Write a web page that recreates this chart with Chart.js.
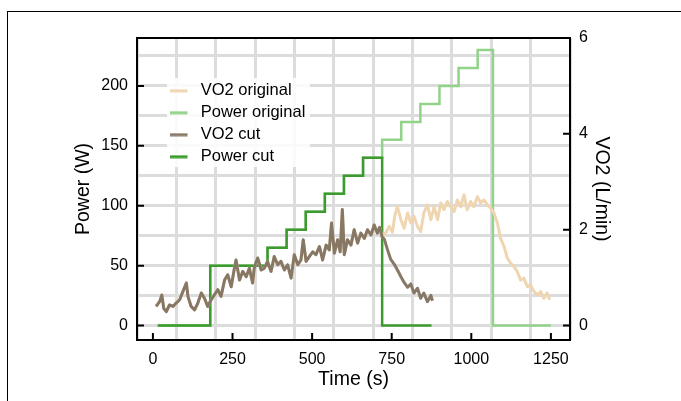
<!DOCTYPE html>
<html>
<head>
<meta charset="utf-8">
<script src="https://cdn.jsdelivr.net/npm/chart.js@4.4.1/dist/chart.umd.min.js"></script>
<style>
  html, body { margin: 0; padding: 0; background: #fff; }
  #wrap { position: relative; width: 681px; height: 401px; overflow: hidden; }
  #frame { position: absolute; left: 7px; top: 11px; width: 720px; height: 440px; border: 1px solid #000; }
  canvas { position: absolute; left: 0; top: 0; }
</style>
</head>
<body>
<div id="wrap">
  <div id="frame"></div>
  <canvas id="chart" width="681" height="401"></canvas>
</div>
<script>
// tick labels
const xTicks = [0, 250, 500, 750, 1000, 1250];
const powerTicks = [0, 50, 100, 150, 200];
const vo2Ticks = [0, 2, 4, 6];

// power steps (value holds from its time onward)
const powerCutTime = [15, 180, 360, 420, 480, 540, 600, 660, 720, 875];
const powerCutW = [0, 50, 65, 80, 95, 110, 125, 140, 0, 0];
const powerOrigTime = [15, 180, 360, 420, 480, 540, 600, 660, 720, 780, 840, 900, 960, 1020, 1068, 1250];
const powerOrigW = [0, 50, 65, 80, 95, 110, 125, 140, 155, 170, 185, 200, 215, 230, 0, 0];

// VO2 common to both series, up to the cut
const vo2Time = [10, 21, 28, 34, 42, 52, 63, 73, 84, 94,
  105, 110, 120, 131, 141, 152, 162, 172, 183, 193,
  204, 214, 225, 235, 246, 256, 261, 272, 282, 293,
  303, 313, 319, 329, 340, 350, 360, 371, 381, 392,
  402, 413, 423, 434, 444, 455, 465, 472, 481, 491,
  502, 512, 523, 533, 544, 554, 561, 570, 580, 588,
  595, 601, 611, 622, 632, 643, 653, 664, 674, 685,
  695, 705, 712, 720];
const vo2Shared = [0.40, 0.50, 0.64, 0.36, 0.29, 0.43, 0.40, 0.47, 0.54, 0.71,
  0.89, 0.61, 0.40, 0.33, 0.47, 0.68, 0.57, 0.40, 0.54, 0.64,
  0.75, 0.61, 0.95, 1.06, 0.81, 1.20, 1.37, 0.95, 1.13, 1.02,
  1.20, 0.89, 1.23, 1.41, 1.16, 1.20, 1.34, 1.13, 1.44, 1.27,
  1.34, 1.16, 1.27, 0.99, 1.48, 1.27, 1.37, 1.79, 1.34, 1.44,
  1.54, 1.48, 1.65, 1.37, 1.68, 1.58, 2.14, 1.51, 1.79, 1.54,
  2.42, 1.48, 1.79, 1.68, 2.00, 1.72, 1.93, 1.82, 2.00, 1.89,
  2.10, 1.93, 2.05, 1.85];

// after the cut: recovery
const cutTailTime = [727, 737, 747, 758, 768, 779, 789, 800, 810, 820, 831, 841, 851, 862, 873, 878];
const cutTailVo2 = [1.80, 1.58, 1.38, 1.28, 1.16, 1.02, 0.90, 0.80, 0.87, 0.68, 0.78, 0.57, 0.68, 0.50, 0.63, 0.52];

// original test continues
const origTailTime = [731, 742, 752, 760, 768, 779, 789, 800, 810, 820, 831, 841, 851, 862, 873,
  883, 894, 904, 914, 925, 935, 946, 956, 967, 977, 987, 998, 1008, 1019, 1029, 1040, 1050, 1061,
  1071, 1082, 1092, 1103, 1113, 1124, 1134, 1144, 1155, 1165, 1176, 1186, 1197, 1207, 1218, 1228, 1238, 1246];
const origTailVo2 = [1.93, 2.07, 1.95, 2.30, 2.48, 2.21, 2.03, 2.35, 2.14, 2.28, 2.07, 1.96, 2.35, 2.52, 2.21,
  2.48, 2.21, 2.56, 2.42, 2.59, 2.48, 2.38, 2.62, 2.48, 2.73, 2.42, 2.59, 2.48, 2.69, 2.56, 2.62, 2.52, 2.45,
  2.35, 2.14, 1.82, 1.65, 1.41, 1.30, 1.23, 1.13, 0.95, 0.99, 0.81, 0.85, 0.71, 0.64, 0.71, 0.57, 0.68, 0.54];

const colors = {
  vo2Orig: "#efd5b0",
  powerOrig: "#92d38a",
  vo2Cut: "#877866",
  powerCut: "#3d9a2f",
};

function pairs(xs, ys) {
  return xs.map((x, i) => ({ x: x, y: ys[i] }));
}

// little canvas used as the legend sample (line segment)
function sample(color) {
  const c = document.createElement("canvas");
  c.width = 23;
  c.height = 4;
  const g = c.getContext("2d");
  g.fillStyle = color;
  g.fillRect(0, 0.5, 18, 3);
  return c;
}

Chart.defaults.font.family = "'Liberation Sans', Arial, sans-serif";
Chart.defaults.color = "#000";

const frame = {
  id: "frame",
  afterDatasetsDraw(chart) {
    const { ctx, chartArea: a, scales } = chart;
    ctx.save();
    ctx.strokeStyle = "#000";
    ctx.lineWidth = 2;
    ctx.strokeRect(a.left, a.top, a.right - a.left, a.bottom - a.top);
    ctx.beginPath();
    xTicks.forEach((v) => {
      const px = scales.x.getPixelForValue(v);
      ctx.moveTo(px, a.bottom);
      ctx.lineTo(px, a.bottom - 7);
    });
    powerTicks.forEach((v) => {
      const py = scales.y.getPixelForValue(v);
      ctx.moveTo(a.left, py);
      ctx.lineTo(a.left + 7, py);
    });
    vo2Ticks.forEach((v) => {
      const py = scales.y2.getPixelForValue(v);
      ctx.moveTo(a.right, py);
      ctx.lineTo(a.right - 7, py);
    });
    ctx.stroke();
    ctx.restore();
  },
};

const legendPlace = {
  id: "legendPlace",
  afterLayout(chart) {
    const lg = chart.legend;
    const a = chart.chartArea;
    lg.left = a.left + 27;
    lg.top = a.top + 39;
    lg.right = a.right;
    lg.bottom = a.bottom;
    if (!lg._bgPatched) {
      const orig = lg.draw;
      lg.draw = function () {
        const c = chart.ctx;
        c.save();
        c.fillStyle = "rgba(255,255,255,0.85)";
        c.fillRect(this.left + 3, this.top + 1, 143, 89);
        c.restore();
        orig.apply(this, arguments);
      };
      lg._bgPatched = true;
    }
  },
};

const datasets = [
  { label: "VO2 original", data: pairs(vo2Time, vo2Shared).concat(pairs(origTailTime, origTailVo2)),
    yAxisID: "y2", borderColor: colors.vo2Orig, borderWidth: 3, order: 1, borderJoinStyle: "round" },
  { label: "Power original", data: pairs(powerOrigTime, powerOrigW),
    yAxisID: "y", borderColor: colors.powerOrig, borderWidth: 2.5, order: 3, stepped: "before" },
  { label: "VO2 cut", data: pairs(vo2Time, vo2Shared).concat(pairs(cutTailTime, cutTailVo2)),
    yAxisID: "y2", borderColor: colors.vo2Cut, borderWidth: 3, order: 0, borderJoinStyle: "round" },
  { label: "Power cut", data: pairs(powerCutTime, powerCutW),
    yAxisID: "y", borderColor: colors.powerCut, borderWidth: 2.5, order: 2, stepped: "before" },
];

new Chart(document.getElementById("chart"), {
  type: "line",
  data: { datasets: datasets },
  options: {
    responsive: false,
    animation: false,
    devicePixelRatio: 1,
    layout: { padding: { left: 72, right: 67.6, top: 38, bottom: 9.6 } },
    elements: { point: { radius: 0 }, line: { tension: 0, fill: false } },
    scales: {
      x: {
        type: "linear", position: "bottom", min: -50, max: 1310,
        afterFit: (s) => { s.height = 51.4; },
        ticks: { stepSize: 250, includeBounds: false, autoSkip: false, maxRotation: 0, padding: 2,
          font: { size: 16 }, callback: (v) => String(v) },
        grid: { display: false },
        border: { display: false },
        title: { display: true, text: "Time (s)", font: { size: 19.5 }, padding: 0 },
      },
      xg: {
        type: "linear", position: "bottom", min: -50, max: 1310,
        afterFit: (s) => { s.height = 0; },
        ticks: { stepSize: 125, includeBounds: false, autoSkip: false, display: false },
        grid: { color: "#dcdcdc", lineWidth: 3, drawTicks: false },
        border: { display: false },
      },
      y: {
        type: "linear", position: "left", min: -12, max: 240,
        afterFit: (s) => { s.width = 65; },
        ticks: { stepSize: 25, includeBounds: false, autoSkip: false, padding: 9,
          font: { size: 16 }, callback: (v) => (powerTicks.includes(v) ? v : "") },
        grid: { color: "#dcdcdc", lineWidth: 3, drawTicks: false },
        border: { display: false },
        title: { display: true, text: "Power (W)", font: { size: 19.5 }, padding: 0 },
      },
      y2: {
        type: "linear", position: "right", min: -0.3, max: 6,
        afterFit: (s) => { s.width = 43.4; },
        ticks: { stepSize: 2, includeBounds: false, autoSkip: false, padding: 9,
          font: { size: 16 }, callback: (v) => (vo2Ticks.includes(v) ? v : "") },
        grid: { drawOnChartArea: false, drawTicks: false },
        border: { display: false },
        title: { display: true, text: "VO2 (L/min)", font: { size: 19.5 }, padding: 0 },
      },
    },
    plugins: {
      tooltip: { enabled: false },
      legend: {
        position: "chartArea",
        align: "start",
        labels: {
          usePointStyle: true,
          pointStyleWidth: 23,
          padding: 5.5,
          font: { size: 16.5 },
          color: "#000",
          generateLabels: (chart) =>
            chart.data.datasets.map((ds, i) => ({
              text: ds.label,
              pointStyle: sample(ds.borderColor),
              fillStyle: ds.borderColor,
              strokeStyle: ds.borderColor,
              lineWidth: 0,
              hidden: false,
              datasetIndex: i,
            })),
        },
      },
    },
  },
  plugins: [frame, legendPlace],
});
</script>
</body>
</html>
